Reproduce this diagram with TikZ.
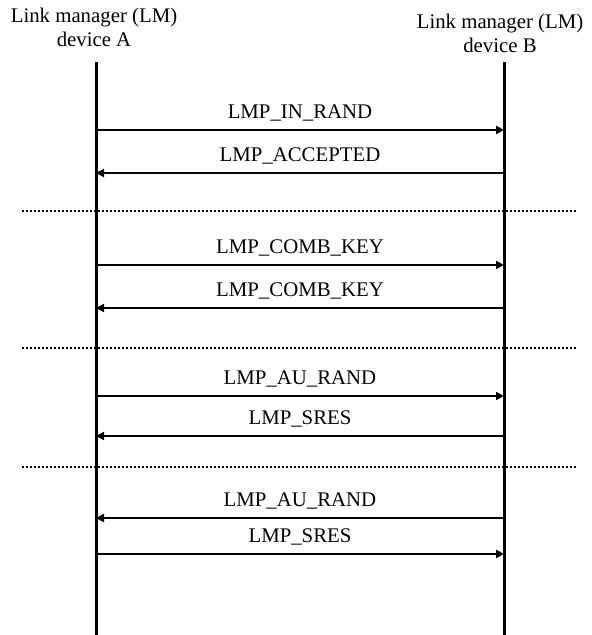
\documentclass[tikz,border=0pt]{standalone}
\usepackage{fontspec}
\setmainfont{Liberation Serif}
\usetikzlibrary{arrows.meta, positioning}

\begin{document}
\begin{tikzpicture}[
  x=0.5pt, y=-0.5pt,
  every node/.style={font=\fontsize{10.4}{12}\selectfont},
  lifeline/.style={draw, line width=1.5pt},
  msg/.style={draw, line width=1pt, -{Triangle[length=4pt,width=4pt]}},
  msglabel/.style={above, inner sep=4pt},
  sepline/.style={draw, line width=1pt, dash pattern=on 1pt off 1pt},
]
\useasboundingbox (0,0) rectangle (591,635);

% the two link managers
\node[align=center] (hA) at (94,27) {Link manager (LM)\\device A};
\node[align=center] (hB) at (500,33) {Link manager (LM)\\device B};

\coordinate (Atop) at (96,62);
\coordinate (Abot) at (96,635);
\coordinate (Btop) at (504,62);
\coordinate (Bbot) at (504,635);
\draw[lifeline] (Atop) -- (Abot);
\draw[lifeline] (Btop) -- (Bbot);

% messages
\foreach \i/\y/\s/\e/\lbl in {
    1/130/a/b/LMP\_IN\_RAND,
    2/173/b/a/LMP\_ACCEPTED,
    3/265/a/b/LMP\_COMB\_KEY,
    4/308/b/a/LMP\_COMB\_KEY,
    5/396/a/b/LMP\_AU\_RAND,
    6/436/b/a/LMP\_SRES,
    7/518/b/a/LMP\_AU\_RAND,
    8/554/a/b/LMP\_SRES}{
  \coordinate (a\i) at (96,\y);
  \coordinate (b\i) at (504,\y);
  \draw[msg] (\s\i) -- node[msglabel] (m\i) {\lbl} (\e\i);
}

% phase separators
\foreach \j/\y in {1/211, 2/348, 3/467}{
  \coordinate (sl\j) at (22,\y);
  \coordinate (sr\j) at (578,\y);
  \draw[sepline] (sl\j) -- (sr\j);
}
\end{tikzpicture}
\end{document}
